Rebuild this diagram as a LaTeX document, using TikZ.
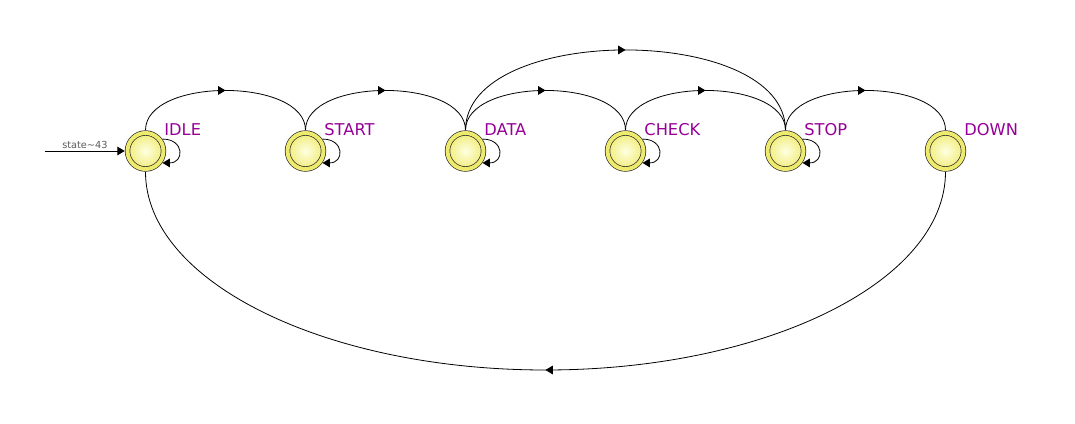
\documentclass[tikz,border=0pt]{standalone}
\usepackage{fontspec}
\setmainfont{DejaVu Sans}
\usetikzlibrary{arrows.meta,decorations.markings}
\definecolor{ringyellow}{RGB}{238,234,110}
\definecolor{paleyellow}{RGB}{255,255,226}
\definecolor{deepyellow}{RGB}{240,236,120}
\definecolor{labelpurple}{RGB}{150,0,150}
\definecolor{initgray}{RGB}{90,90,90}
\begin{document}
\begin{tikzpicture}[x = 0.75pt, y = -0.75pt,
        state/.style = {circle, minimum size = 27pt, inner sep = 0pt, outer sep = 2.1pt,
            draw = black!85, line width = 0.5pt, double = ringyellow, double distance = 3pt,
            inner color = paleyellow, outer color = deepyellow},
        lbl/.style = {anchor = base west, inner sep = 0pt, text = labelpurple,
            font = \fontsize{12.2pt}{14pt}\selectfont},
        tip/.style = {-{Triangle[length = 5.5pt, width = 6.5pt]}},
        midarrow/.style = {postaction = {decorate}, decoration = {markings,
            mark = at position 0.5 with {\arrow{Triangle[length = 5.5pt, width = 6.5pt]}}}},
        line width = 0.6pt
    ]
        \useasboundingbox (0, 0) rectangle (1075, 424);

        \node [state] (idle) at (145.5, 151) {};
        \node [state] (start) at (305.5, 151) {};
        \node [state] (data) at (465.5, 151) {};
        \node [state] (check) at (625.5, 151) {};
        \node [state] (stop) at (785.5, 151) {};
        \node [state] (down) at (945.5, 151) {};

        \node [lbl] (idle-lbl) at ([shift = {(18.5, -15)}]idle.center) {IDLE};
        \node [lbl] (start-lbl) at ([shift = {(18.5, -15)}]start.center) {START};
        \node [lbl] (data-lbl) at ([shift = {(18.5, -15)}]data.center) {DATA};
        \node [lbl] (check-lbl) at ([shift = {(18.5, -15)}]check.center) {CHECK};
        \node [lbl] (stop-lbl) at ([shift = {(18.5, -15)}]stop.center) {STOP};
        \node [lbl] (down-lbl) at ([shift = {(18.5, -15)}]down.center) {DOWN};

        % reset entry
        \coordinate (init) at (45, 151);
        \draw [tip] (init) -- node [above, inner sep = 1.5pt, text = initgray,
            font = \fontsize{7.3pt}{9pt}\selectfont] (init-lbl) {state\textasciitilde 43} (idle);

        % self loops
        \draw [tip] (idle.35) .. controls +(22, 0) and +(22, 0) .. (idle.-35);
        \draw [tip] (start.35) .. controls +(22, 0) and +(22, 0) .. (start.-35);
        \draw [tip] (data.35) .. controls +(22, 0) and +(22, 0) .. (data.-35);
        \draw [tip] (check.35) .. controls +(22, 0) and +(22, 0) .. (check.-35);
        \draw [tip] (stop.35) .. controls +(22, 0) and +(22, 0) .. (stop.-35);

        % forward transitions
        \draw [midarrow] (idle.north) .. controls +(0, -53) and +(0, -53) .. (start.north);
        \draw [midarrow] (start.north) .. controls +(0, -53) and +(0, -53) .. (data.north);
        \draw [midarrow] (data.north) .. controls +(0, -53) and +(0, -53) .. (check.north);
        \draw [midarrow] (check.north) .. controls +(0, -53) and +(0, -53) .. (stop.north);
        \draw [midarrow] (stop.north) .. controls +(0, -53) and +(0, -53) .. (down.north);
        \draw [midarrow] (data.north) .. controls +(0, -107) and +(0, -107) .. (stop.north);

        % back to idle
        \coordinate (bottom) at (545.5, 370);
        \draw [midarrow] (down.south) .. controls +(0, 110) and +(220, 0) .. (bottom)
            .. controls +(-220, 0) and +(0, 110) .. (idle.south);
\end{tikzpicture}
\end{document}
